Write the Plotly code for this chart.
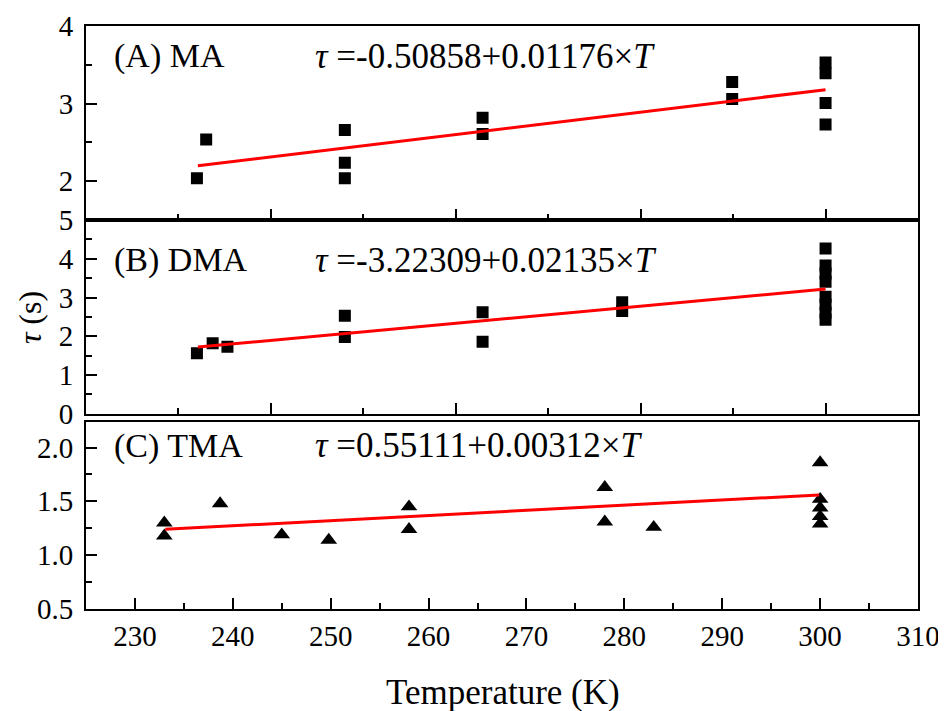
import plotly.graph_objects as go

# ---------------- data ----------------
# Panel A: MA (x axis frame 220-310)
ma_T = [232.0, 233.0, 248.0, 248.0, 248.0, 262.9, 262.9, 289.9, 289.9, 300.0, 300.0, 300.0, 300.0]
ma_tau = [2.04, 2.54, 2.66, 2.24, 2.04, 2.82, 2.61, 3.28, 3.06, 3.53, 3.39, 3.01, 2.73]
ma_fit_T = [232.1, 300.0]
ma_fit_tau = [2.20, 3.18]

# Panel B: DMA
dma_T = [232.0, 233.7, 235.3, 248.0, 248.0, 262.9, 262.9, 278.0, 278.0,
         300.0, 300.0, 300.0, 300.0, 300.0, 300.0, 300.0, 300.0]
dma_tau = [1.56, 1.82, 1.73, 2.53, 1.98, 2.62, 1.86, 2.88, 2.65,
           4.27, 3.83, 3.62, 3.41, 3.02, 2.82, 2.61, 2.43]
dma_fit_T = [232.1, 300.0]
dma_fit_tau = [1.72, 3.22]

# Panel C: TMA
tma_T = [233, 233, 238.7, 245, 249.8, 258, 258, 278, 278, 283, 300, 300, 300, 300, 300]
tma_tau = [1.30, 1.18, 1.48, 1.19, 1.14, 1.45, 1.24, 1.63, 1.31, 1.26, 1.86, 1.52, 1.44, 1.36, 1.29]
tma_fit_T = [233.1, 299.9]
tma_fit_tau = [1.24, 1.56]

panel_labels = ["(A) MA", "(B) DMA", "(C) TMA"]
equations = ["<i>τ</i> =-0.50858+0.01176×<i>T</i>",
             "<i>τ</i> =-3.22309+0.02135×<i>T</i>",
             "<i>τ</i> =0.55111+0.00312×<i>T</i>"]
x_ticks_C = [230, 240, 250, 260, 270, 280, 290, 300, 310]
x_ticks_AB = [240, 260, 280, 300]
y_ticks_A = [2, 3, 4]
y_ticks_B = [0, 1, 2, 3, 4, 5]
y_ticks_C = [0.5, 1.0, 1.5, 2.0]

# ---------------- figure ----------------
FONT = "Liberation Serif, Times New Roman, serif"
fig = go.Figure()

sq = dict(symbol="square", size=12, color="black", line=dict(width=0))
tri = dict(symbol="triangle-up", size=14.5, color="black", line=dict(width=0))
red = dict(color="#ff0000", width=3)

fig.add_trace(go.Scatter(x=ma_T, y=ma_tau, mode="markers", marker=sq, xaxis="x", yaxis="y"))
fig.add_trace(go.Scatter(x=ma_fit_T, y=ma_fit_tau, mode="lines", line=red, xaxis="x", yaxis="y"))
fig.add_trace(go.Scatter(x=dma_T, y=dma_tau, mode="markers", marker=sq, xaxis="x2", yaxis="y2"))
fig.add_trace(go.Scatter(x=dma_fit_T, y=dma_fit_tau, mode="lines", line=red, xaxis="x2", yaxis="y2"))
fig.add_trace(go.Scatter(x=tma_T, y=tma_tau, mode="markers", marker=tri, xaxis="x3", yaxis="y3"))
fig.add_trace(go.Scatter(x=tma_fit_T, y=tma_fit_tau, mode="lines", line=red, xaxis="x3", yaxis="y3"))

tick_font = dict(family=FONT, size=29, color="black")
axis_common = dict(showline=True, linecolor="black", linewidth=2, mirror=True,
                   showgrid=False, zeroline=False, ticks="inside", ticklen=11,
                   tickwidth=2, tickcolor="black", tickfont=tick_font, automargin=False)

def minor(vals):
    return dict(tickvals=vals, ticks="inside", ticklen=6, tickwidth=2, tickcolor="black", showgrid=False)

xab = dict(axis_common, range=[220, 310], tickvals=x_ticks_AB, showticklabels=False,
           minor=minor([230, 250, 270, 290]))

# page body has an 8 px margin: figure is drawn 8 px right/down
layout = dict(
    width=938, height=703,
    margin=dict(l=78, r=28, t=18, b=102, autoexpand=False),
    font=dict(family=FONT, size=29, color="black"),
    paper_bgcolor="white", plot_bgcolor="white",
    showlegend=False,
    xaxis=dict(xab, anchor="y", domain=[0, 1]),
    yaxis=dict(axis_common, range=[1.5, 4], tickvals=y_ticks_A, domain=[0.667, 1.0],
               anchor="x", minor=minor([2.5, 3.5]), ticklabelstandoff=5),
    xaxis2=dict(xab, anchor="y2", domain=[0, 1]),
    yaxis2=dict(axis_common, range=[0, 5], tickvals=y_ticks_B, domain=[0.335, 0.667],
                anchor="x2", minor=minor([0.5, 1.5, 2.5, 3.5, 4.5]), ticklabelstandoff=5),
    xaxis3=dict(axis_common, range=[225, 310], tickvals=x_ticks_C, anchor="y3", domain=[0, 1],
                minor=minor([235, 245, 255, 265, 275, 285, 295, 305]), ticklabelstandoff=0),
    yaxis3=dict(axis_common, range=[0.5, 2.24], tickvals=y_ticks_C, tickformat=".1f",
                domain=[0, 0.3213], anchor="x3", minor=minor([0.75, 1.25, 1.75]),
                ticklabelstandoff=5),
)
fig.update_layout(**layout)

lab_font = dict(family=FONT, size=34, color="black")
eq_font = dict(family=FONT, size=35, color="black")
label_y = [0.9485, 0.5986, 0.2796]
eq_y = [0.9485, 0.5986, 0.2813]
for lab, eq, ly, ey in zip(panel_labels, equations, label_y, eq_y):
    fig.add_annotation(text=lab, x=0.031, y=ly, xref="paper", yref="paper",
                       xanchor="left", yanchor="middle", showarrow=False, font=lab_font)
    fig.add_annotation(text=eq, x=0.2728, y=ey, xref="paper", yref="paper",
                       xanchor="left", yanchor="middle", showarrow=False, font=eq_font)

fig.add_annotation(text="<i>τ</i> (s)", x=-0.0673, y=0.499, xref="paper", yref="paper",
                   xanchor="center", yanchor="middle", textangle=-90, showarrow=False,
                   font=dict(family=FONT, size=32, color="black"))
fig.add_annotation(text="Temperature (K)", x=0.501, y=-0.144, xref="paper", yref="paper",
                   xanchor="center", yanchor="middle", showarrow=False,
                   font=dict(family=FONT, size=35, color="black"))

fig.write_html("out.html")
